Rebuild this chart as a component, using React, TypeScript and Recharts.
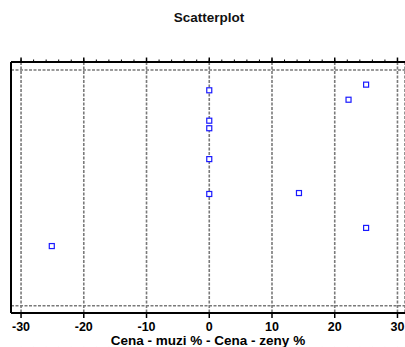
import React from "react";
import { ScatterChart, Scatter, XAxis, YAxis, CartesianGrid } from "recharts";

// differences in price (men % - women %) on x, row position on y (unlabelled axis)
const diffValues = [0, 25, 22.2, 0, 0, 0, 0, 14.3, 25, -25.1];
const rowValues = [91.4, 93.8, 87.4, 78.5, 75.3, 62.2, 47.4, 47.8, 33.0, 25.3];

const majorTicks = [-30, -20, -10, 0, 10, 20, 30];
const minorTicks = [
  -30, -28, -26, -24, -22, -20, -18, -16, -14, -12, -10, -8, -6, -4, -2, 0,
  2, 4, 6, 8, 10, 12, 14, 16, 18, 20, 22, 24, 26, 28, 30,
];
const yTicks = [0, 100];

const points = diffValues.map((x, i) => ({ x, y: rowValues[i] }));

const FONT = "'Liberation Sans', Arial, sans-serif";

// keeps the tick lines but draws no label
const NoLabel = () => <g />;
// axes with a zero size are skipped by recharts, so use a hairline instead
const THIN = 0.01;

const SquareDot = (props: any) => {
  const { cx, cy } = props;
  if (cx == null || cy == null) return null;
  return (
    <rect
      x={cx - 2.5}
      y={cy - 2.5}
      width={5}
      height={5}
      fill="#ffffff"
      stroke="#1a1aff"
      strokeWidth={1.2}
    />
  );
};

export default function App() {
  const xDomain: [number, number] = [-31.6, 31.2];
  return (
    <div
      style={{
        position: "absolute",
        left: 0,
        top: 0,
        width: 405,
        height: 347,
        overflow: "hidden",
        background: "#fff",
        fontFamily: FONT,
      }}
    >
      <div
        style={{
          position: "absolute",
          top: 10,
          left: 0,
          width: 418,
          textAlign: "center",
          fontSize: 13.5,
          fontWeight: "bold",
          color: "#111",
        }}
      >
        Scatterplot
      </div>
      <ScatterChart
        width={405}
        height={347}
        margin={{ top: 62, right: 0, bottom: 0, left: 11 }}
      >
        <CartesianGrid
          stroke="#7a7a7a"
          strokeWidth={1.6}
          strokeDasharray="3 1.5"
        />
        {/* minor ticks sit on the plot edge, so they come first */}
        <XAxis
          xAxisId="minor"
          type="number"
          dataKey="x"
          domain={xDomain}
          ticks={minorTicks}
          height={THIN}
          axisLine={false}
          tick={NoLabel}
          tickSize={2.5}
          tickLine={{ stroke: "#000", strokeWidth: 1 }}
          interval={0}
          allowDataOverflow
        />
        <XAxis
          type="number"
          dataKey="x"
          domain={xDomain}
          ticks={majorTicks}
          height={34}
          tickSize={5}
          tickMargin={4}
          axisLine={{ stroke: "#000", strokeWidth: 2 }}
          tickLine={{ stroke: "#000", strokeWidth: 1.5 }}
          tick={{ fill: "#000", fontSize: 12.5, fontWeight: "bold", fontFamily: FONT }}
          interval={0}
          allowDataOverflow
          label={{
            value: "Cena - muzi % - Cena - zeny %",
            position: "insideBottom",
            offset: 1.5,
            fill: "#000",
            fontSize: 13.5,
            fontWeight: "bold",
            fontFamily: FONT,
          }}
        />
        <XAxis
          xAxisId="topMinor"
          orientation="top"
          type="number"
          dataKey="x"
          domain={xDomain}
          ticks={minorTicks}
          height={THIN}
          axisLine={{ stroke: "#000", strokeWidth: 2 }}
          tick={NoLabel}
          tickSize={2.5}
          tickLine={{ stroke: "#000", strokeWidth: 1 }}
          interval={0}
          allowDataOverflow
        />
        <XAxis
          xAxisId="top"
          orientation="top"
          type="number"
          dataKey="x"
          domain={xDomain}
          ticks={majorTicks}
          height={THIN}
          axisLine={false}
          tick={NoLabel}
          tickSize={4.5}
          tickLine={{ stroke: "#000", strokeWidth: 1.5 }}
          interval={0}
          allowDataOverflow
        />
        <YAxis
          type="number"
          dataKey="y"
          domain={[-3.1, 103.4]}
          ticks={yTicks}
          width={THIN}
          tick={NoLabel}
          tickLine={false}
          axisLine={{ stroke: "#000", strokeWidth: 2 }}
          interval={0}
          allowDataOverflow
        />
        <Scatter data={points} shape={SquareDot} isAnimationActive={false} />
      </ScatterChart>
    </div>
  );
}
